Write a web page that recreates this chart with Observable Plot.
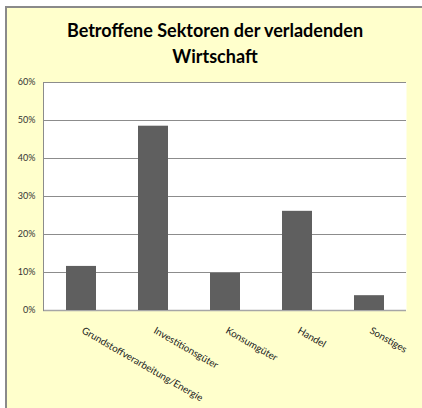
<!DOCTYPE html>
<html>
<head>
<meta charset="utf-8">
<script src="https://cdn.jsdelivr.net/npm/d3@7"></script>
<script src="https://cdn.jsdelivr.net/npm/@observablehq/plot@0.6"></script>
<style>
  html, body { margin: 0; padding: 0; background: #ffffff; }
  #page { position: relative; width: 422px; height: 408px; overflow: hidden; }
  #frame { position: absolute; left: 5px; top: 6px; width: 430px; height: 420px;
           background: #FFFFCC; border-left: 2px solid #8a8a8a; border-top: 2px solid #8a8a8a; }
  #title { position: absolute; left: 0; top: 17px; width: 430px; text-align: center;
           font-family: Lato, "Open Sans", sans-serif; font-weight: bold; font-size: 18px;
           line-height: 26px; color: #000; }
  #chart { position: absolute; left: 0; top: 0; }
</style>
</head>
<body>
<div id="page">
  <div id="frame"></div>
  <div id="title">Betroffene Sektoren der verladenden<br>Wirtschaft</div>
  <div id="chart"></div>
</div>
<script>
const categories = ["Grundstoffverarbeitung/Energie", "Investitionsgüter", "Konsumgüter", "Handel", "Sonstiges"];
const values = [0.116, 0.485, 0.098, 0.261, 0.039];
const yTicks = [0, 0.1, 0.2, 0.3, 0.4, 0.5, 0.6];

const data = categories.map((c, i) => ({category: c, value: values[i]}));

const chart = Plot.plot({
  width: 422,
  height: 408,
  marginLeft: 43,
  marginRight: 16,
  marginTop: 82,
  marginBottom: 98,
  style: {background: "transparent", fontFamily: "Lato, 'Open Sans', sans-serif"},
  x: {domain: categories, paddingInner: 0.59, paddingOuter: 0.295, axis: null},
  y: {domain: [0, 0.6], axis: null},
  marks: [
    Plot.frame({fill: "white", stroke: null}),
    Plot.ruleY(yTicks.slice(1), {stroke: "#8c8c8c", strokeWidth: 1}),
    Plot.ruleY([0], {stroke: "#a6a6a6", strokeWidth: 1.5}),
    Plot.frame({anchor: "left", stroke: "#8c8c8c", strokeWidth: 1}),
    Plot.barY(data, {x: "category", y: "value", fill: "#5f5f5f"}),
    Plot.text(yTicks, {
      frameAnchor: "left", y: d => d, text: d => `${Math.round(d * 100)}%`,
      dx: -8, textAnchor: "end", fontSize: 9, fill: "#333"
    }),
    Plot.text(categories, {
      x: d => d, y: 0, text: d => d, rotate: 30, textAnchor: "start",
      lineAnchor: "top", dx: 3, dy: 16, fontSize: 9.8, fill: "#222"
    })
  ]
});
document.getElementById("chart").appendChild(chart);
</script>
</body>
</html>
